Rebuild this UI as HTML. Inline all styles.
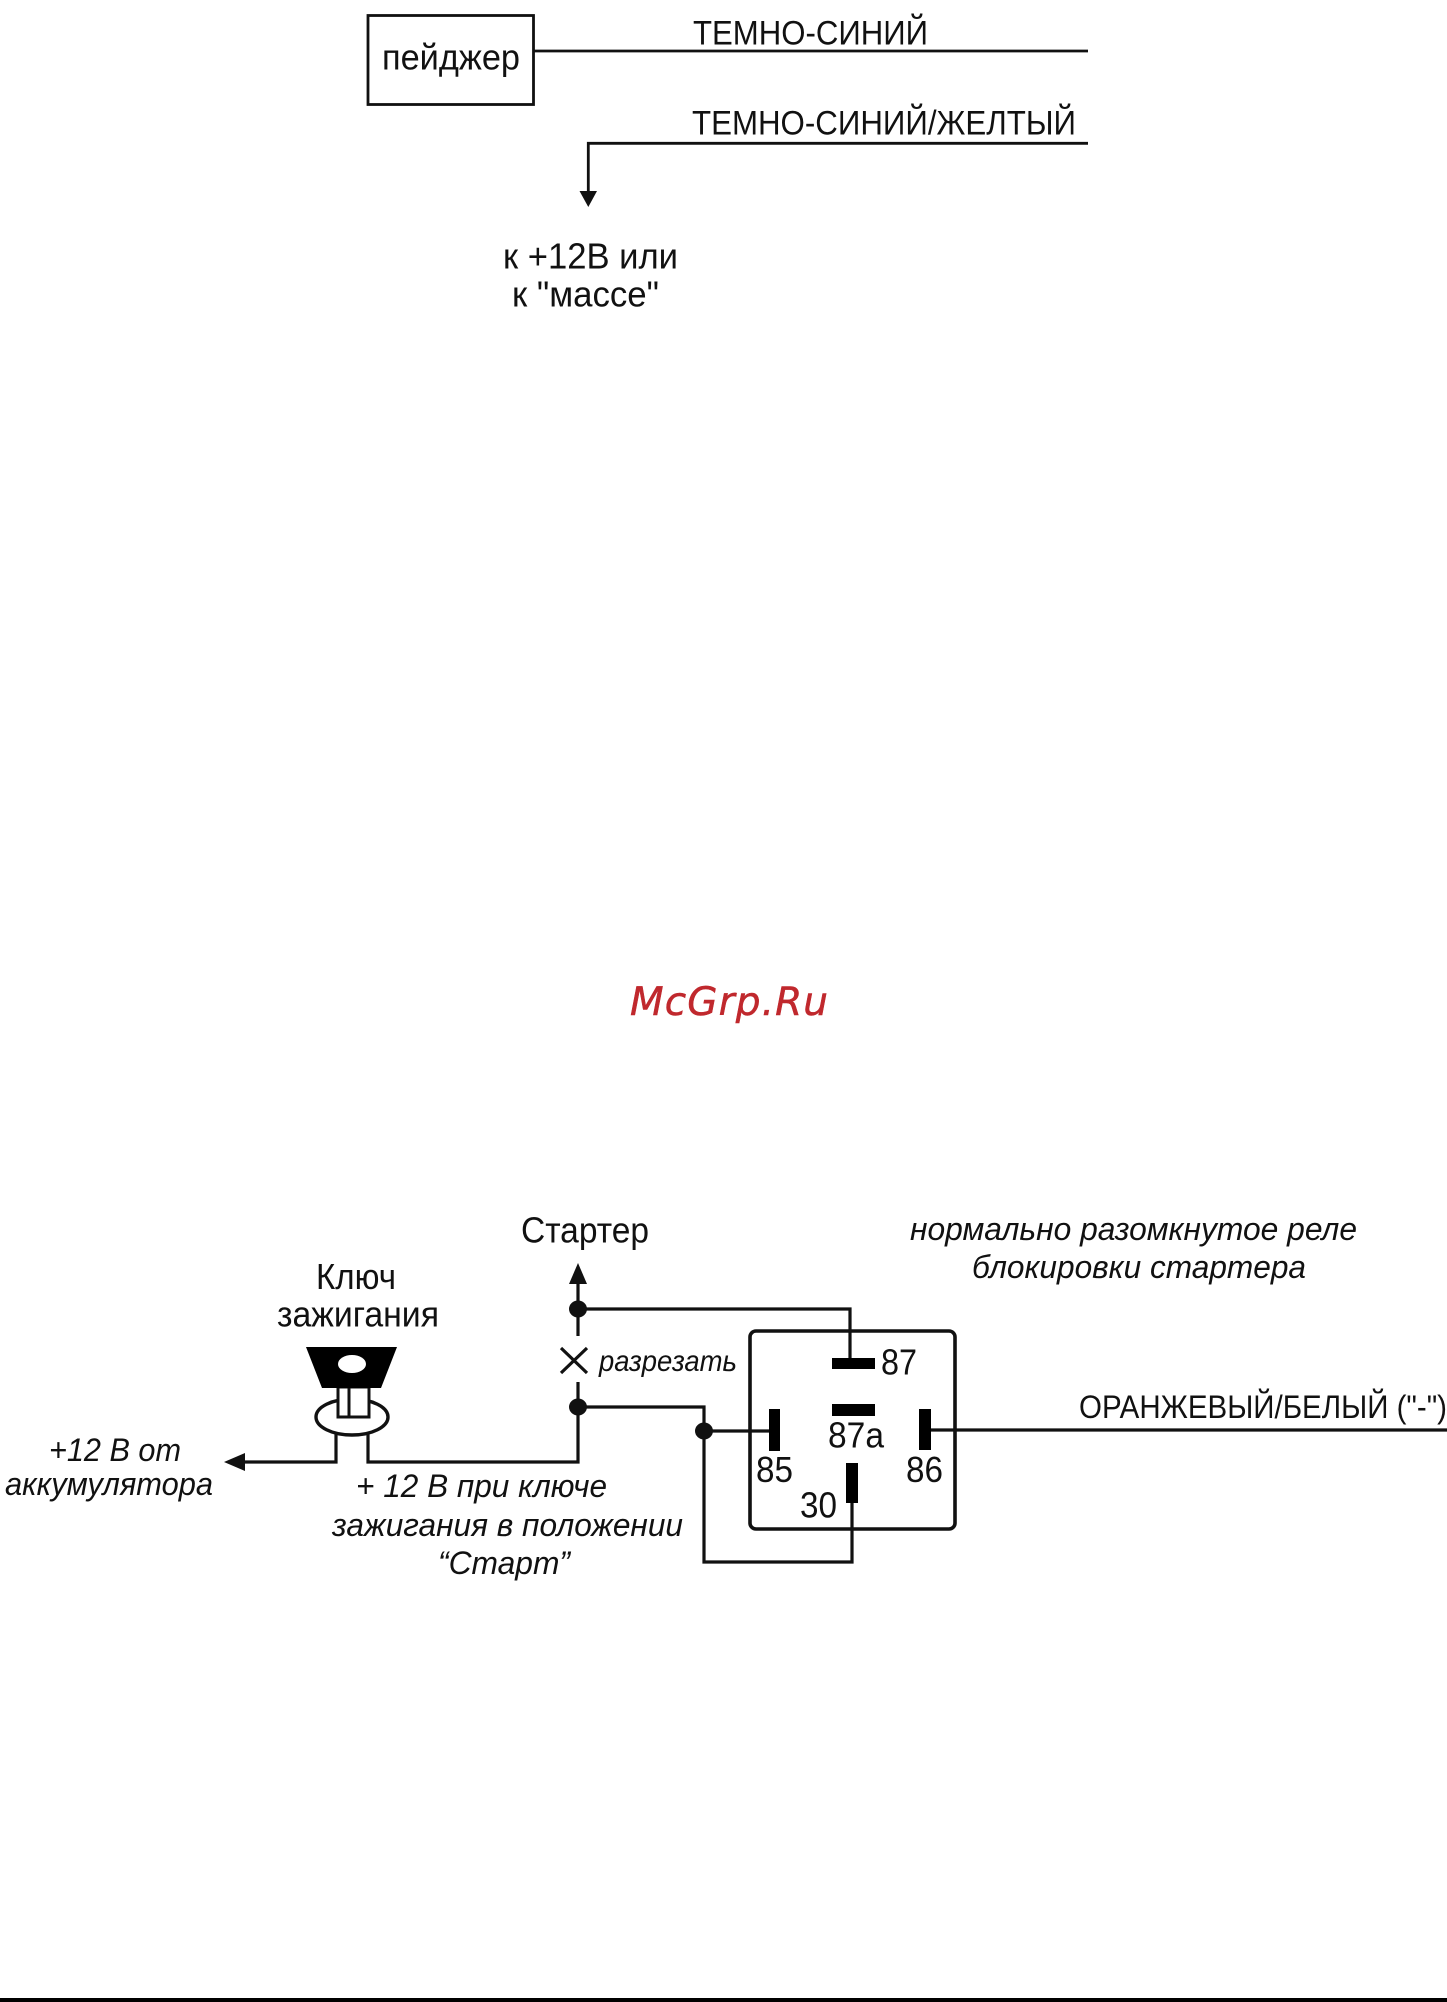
<!DOCTYPE html>
<html lang="ru">
<head>
<meta charset="utf-8">
<title>Схема</title>
<style>
html,body{margin:0;padding:0;background:#fff;width:1447px;height:2002px;overflow:hidden}
svg{display:block}
text{font-family:"Liberation Sans","DejaVu Sans",sans-serif;fill:#111}
.i{font-style:italic}
</style>
</head>
<body>
<svg width="1447" height="2002" viewBox="0 0 1447 2002" xmlns="http://www.w3.org/2000/svg">
<rect width="1447" height="2002" fill="#fff"/>
<!-- top -->
<g fill="none" stroke="#111" stroke-width="2.8">
<rect x="368" y="15.5" width="165.5" height="89"/>
<path d="M534 51H1088"/>
<path d="M1088 143.3H588.3V195"/>
</g>
<path d="M579.5 191H597L588.3 207Z" fill="#111"/>
<text x="693" y="44.5" font-size="34" textLength="235" lengthAdjust="spacingAndGlyphs">ТЕМНО-СИНИЙ</text>
<text x="692" y="134.5" font-size="34" textLength="384" lengthAdjust="spacingAndGlyphs">ТЕМНО-СИНИЙ/ЖЕЛТЫЙ</text>
<text x="382" y="69.5" font-size="36" textLength="138" lengthAdjust="spacingAndGlyphs">пейджер</text>
<text x="503" y="268.5" font-size="36" textLength="175" lengthAdjust="spacingAndGlyphs">к +12В или</text>
<text x="512" y="306.5" font-size="36" textLength="147" lengthAdjust="spacingAndGlyphs">к "массе"</text>
<!-- watermark -->
<text x="630" y="1015" font-size="39" font-style="italic" style="font-family:'DejaVu Sans',sans-serif;fill:#c0282d;stroke:#c0282d;stroke-width:.5" textLength="198">McGrp.Ru</text>
<!-- key -->
<ellipse cx="352" cy="1417" rx="36" ry="18" fill="#fff" stroke="#111" stroke-width="3.4"/>
<rect x="338" y="1387" width="31" height="30" fill="#fff" stroke="#111" stroke-width="3"/>
<path d="M349 1387V1417" stroke="#111" stroke-width="3"/>
<path d="M306 1347H397L381 1388H322Z" fill="#000"/>
<ellipse cx="352" cy="1364" rx="14" ry="9" fill="#fff"/>
<!-- wires -->
<g fill="none" stroke="#111" stroke-width="3.2">
<path d="M245 1462H336V1433"/>
<path d="M368 1433V1462H578V1382"/>
<path d="M578 1284V1336"/>
<path d="M578 1309H850V1362"/>
<path d="M578 1407H704V1562H852V1503"/>
<path d="M704 1431H770"/>
<path d="M931 1430H1447"/>
<rect x="750" y="1331" width="205" height="198" rx="6" ry="6" stroke-width="3.6"/>
<path d="M561 1348L587 1373M587 1348L561 1373"/>
</g>
<path d="M578 1263L587 1284H569Z" fill="#111"/>
<path d="M224 1462L245 1453V1471Z" fill="#111"/>
<ellipse cx="578" cy="1309" rx="9" ry="8.5" fill="#111"/>
<ellipse cx="578" cy="1407" rx="9" ry="8.5" fill="#111"/>
<ellipse cx="704" cy="1431" rx="9" ry="8.5" fill="#111"/>
<!-- pins -->
<g fill="#000">
<rect x="832" y="1358" width="43" height="11"/>
<rect x="832" y="1404" width="43" height="12"/>
<rect x="769" y="1409" width="11" height="42"/>
<rect x="919" y="1409" width="12" height="41"/>
<rect x="846" y="1463" width="12" height="40"/>
</g>
<!-- labels -->
<text x="521" y="1242.5" font-size="36" textLength="128" lengthAdjust="spacingAndGlyphs">Стартер</text>
<text x="316" y="1289" font-size="36" textLength="80" lengthAdjust="spacingAndGlyphs">Ключ</text>
<text x="277" y="1326.5" font-size="36" textLength="162" lengthAdjust="spacingAndGlyphs">зажигания</text>
<text class="i" x="599" y="1371" font-size="30" textLength="138" lengthAdjust="spacingAndGlyphs">разрезать</text>
<text class="i" x="49" y="1461" font-size="32" textLength="132" lengthAdjust="spacingAndGlyphs">+12 В от</text>
<text class="i" x="5" y="1495" font-size="32" textLength="208" lengthAdjust="spacingAndGlyphs">аккумулятора</text>
<text class="i" x="356" y="1497" font-size="32" textLength="251" lengthAdjust="spacingAndGlyphs">+ 12 В при ключе</text>
<text class="i" x="332" y="1536" font-size="32" textLength="351" lengthAdjust="spacingAndGlyphs">зажигания в положении</text>
<text class="i" x="438" y="1574" font-size="32" textLength="132" lengthAdjust="spacingAndGlyphs">“Старт”</text>
<text class="i" x="910" y="1240" font-size="32" textLength="447" lengthAdjust="spacingAndGlyphs">нормально разомкнутое реле</text>
<text class="i" x="972" y="1278" font-size="32" textLength="334" lengthAdjust="spacingAndGlyphs">блокировки стартера</text>
<text x="881" y="1374.5" font-size="36" textLength="36" lengthAdjust="spacingAndGlyphs">87</text>
<text x="828" y="1447.5" font-size="36" textLength="56" lengthAdjust="spacingAndGlyphs">87a</text>
<text x="756" y="1482" font-size="36" textLength="37" lengthAdjust="spacingAndGlyphs">85</text>
<text x="906" y="1482" font-size="36" textLength="37" lengthAdjust="spacingAndGlyphs">86</text>
<text x="800" y="1517.5" font-size="36" textLength="37" lengthAdjust="spacingAndGlyphs">30</text>
<text x="1079" y="1418" font-size="32" textLength="368" lengthAdjust="spacingAndGlyphs">ОРАНЖЕВЫЙ/БЕЛЫЙ ("-")</text>
<!-- bottom bar -->
<rect x="0" y="1998" width="1447" height="4" fill="#000"/>
</svg>
</body>
</html>
